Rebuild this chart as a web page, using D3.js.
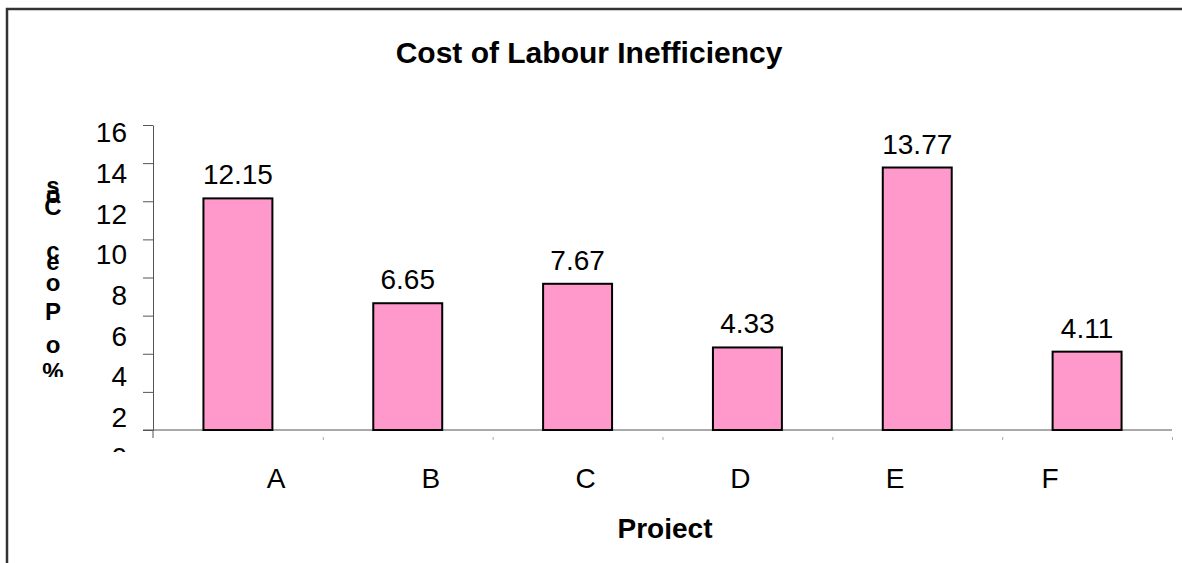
<!DOCTYPE html>
<html>
<head>
<meta charset="utf-8">
<script src="https://cdn.jsdelivr.net/npm/d3@7"></script>
<style>
  body { margin: 0; background: #fff; }
  text { font-family: "Liberation Sans", Arial, sans-serif; }
</style>
</head>
<body>
<div id="chart"></div>
<script>
// data
var projects = ["A", "B", "C", "D", "E", "F"];
var costPct = [12.15, 6.65, 7.67, 4.33, 13.77, 4.11];
var yTicks = [0, 2, 4, 6, 8, 10, 12, 14, 16];
var chartTitle = "Cost of Labour Inefficiency";
var xTitle = "Project";
var yTitle = "% of Project Cost";

var W = 1182, H = 563;
var plot = {left: 153, right: 1172, top: 125, bottom: 430};

var svg = d3.select("#chart")
  .append("svg")
    .attr("width", W)
    .attr("height", H);

var defs = svg.append("defs");
defs.append("clipPath").attr("id", "clipYLab")
  .append("rect").attr("x", -150).attr("y", 0).attr("width", 160).attr("height", 452);
defs.append("clipPath").attr("id", "clipXTitle")
  .append("rect").attr("x", 0).attr("y", 0).attr("width", W).attr("height", 539);
defs.append("clipPath").attr("id", "clipYTitle")
  .append("rect").attr("x", 0).attr("y", 0).attr("width", 150).attr("height", 377);

// outer frame (top + left only)
svg.append("path")
  .attr("d", "M7," + H + "V9H" + W)
  .attr("fill", "none")
  .attr("stroke", "#333")
  .attr("stroke-width", 2.5);

// scales
var x = d3.scaleBand()
  .domain(projects)
  .range([plot.left, plot.right])
  .paddingInner(0.594)
  .paddingOuter(0.297);

var xEdge = d3.scaleLinear()
  .domain([0, projects.length])
  .range([plot.left, plot.right]);

var y = d3.scaleLinear()
  .domain([0, 16])
  .range([plot.bottom, plot.top]);

// label scales (labels sit a bit off their ticks in the original)
var xLab = d3.scalePoint().domain(projects).range([276, 1050]);
var yLab = d3.scaleLinear().domain([0, 16]).range([458, 133]);

// y axis line + ticks
var yAxis = svg.append("g")
  .attr("transform", "translate(" + plot.left + ",0)")
  .call(d3.axisLeft(y).tickValues(yTicks).tickSize(10).tickSizeOuter(0).tickFormat(""));
yAxis.select(".domain").attr("stroke", "#555");
yAxis.selectAll(".tick line").attr("stroke", "#555");
yAxis.append("line")
  .attr("x1", 0).attr("x2", 0)
  .attr("y1", plot.bottom).attr("y2", plot.bottom + 8)
  .attr("stroke", "#555");

// y tick labels
svg.append("g")
  .attr("transform", "translate(127,0)")
  .attr("clip-path", "url(#clipYLab)")
  .call(d3.axisLeft(yLab).tickValues(yTicks).tickSize(0).tickPadding(0))
  .call(function(g) { g.select(".domain").remove(); })
  .selectAll("text")
    .attr("fill", "#000")
    .style("font-size", "28px")
    .style("font-family", "'Liberation Sans', Arial, sans-serif");

// x baseline + little ticks between categories
var xAxis = svg.append("g")
  .attr("transform", "translate(0," + plot.bottom + ")")
  .call(d3.axisBottom(xEdge).tickValues(d3.range(1, projects.length + 1)).tickSize(10).tickSizeOuter(0).tickFormat(""));
xAxis.select(".domain").remove();
xAxis.selectAll(".tick line")
  .attr("stroke", "#aaa")
  .attr("stroke-dasharray", "0,7,2");
svg.append("line")
  .attr("x1", plot.left - 10).attr("x2", plot.right)
  .attr("y1", plot.bottom).attr("y2", plot.bottom)
  .attr("stroke", "#555");

// bars
var bars = projects.map(function(p, i) { return {project: p, value: costPct[i]}; });

svg.selectAll("rect.bar")
  .data(bars)
  .enter()
  .append("rect")
    .attr("class", "bar")
    .attr("x", function(d) { return x(d.project); })
    .attr("y", function(d) { return y(d.value); })
    .attr("width", x.bandwidth())
    .attr("height", function(d) { return plot.bottom - y(d.value); })
    .attr("fill", "#ff99cc")
    .attr("stroke", "#000")
    .attr("stroke-width", 2);

// value labels
svg.selectAll("text.val")
  .data(bars)
  .enter()
  .append("text")
    .attr("class", "val")
    .attr("x", function(d) { return x(d.project) + x.bandwidth() / 2; })
    .attr("y", function(d) { return y(d.value) - 14; })
    .attr("text-anchor", "middle")
    .style("font-size", "28px")
    .text(function(d) { return d.value.toFixed(2); });

// category labels
svg.selectAll("text.cat")
  .data(projects)
  .enter()
  .append("text")
    .attr("class", "cat")
    .attr("x", function(d) { return xLab(d); })
    .attr("y", 488)
    .attr("text-anchor", "middle")
    .style("font-size", "28px")
    .text(function(d) { return d; });

// title
svg.append("text")
  .attr("x", 589)
  .attr("y", 63)
  .attr("text-anchor", "middle")
  .style("font-size", "30px")
  .style("font-weight", "bold")
  .text(chartTitle);

// x title (descender of j is cut off in the original)
svg.append("text")
  .attr("clip-path", "url(#clipXTitle)")
  .attr("x", 665)
  .attr("y", 538)
  .attr("text-anchor", "middle")
  .style("font-size", "28px")
  .style("font-weight", "bold")
  .text(xTitle);

// y title: letters stacked and partly overlapping, as rendered in the original
var glyphs = [["s", 186], ["o", 195], ["C", 207], ["c", 251], ["e", 262],
              ["o", 283], ["P", 312], ["o", 345], ["%", 372]];
svg.append("g")
  .attr("clip-path", "url(#clipYTitle)")
  .selectAll("text")
  .data(glyphs)
  .enter()
  .append("text")
    .attr("x", 53)
    .attr("y", function(d) { return d[1] + 8; })
    .attr("text-anchor", "middle")
    .style("font-size", "24px")
    .style("font-weight", "bold")
    .text(function(d) { return d[0]; });
</script>
</body>
</html>
